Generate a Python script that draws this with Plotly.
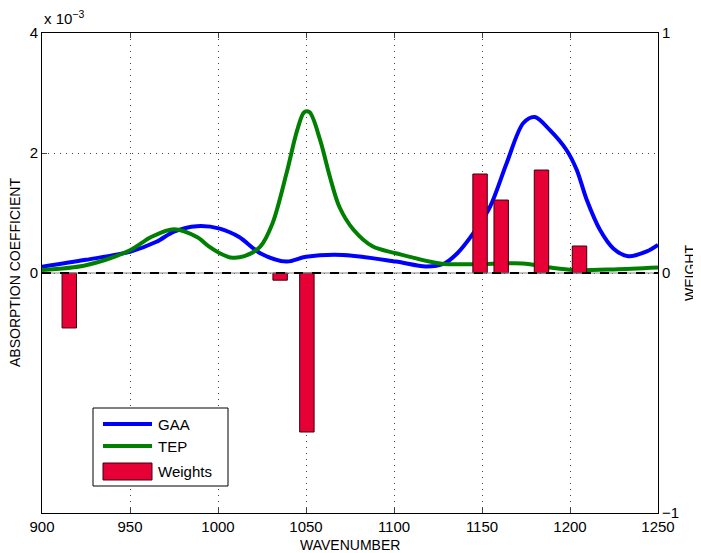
import plotly.graph_objects as go

# Data (absorption coefficient in units of 1e-3)
gaa_x = [900, 925, 950, 965, 975, 988, 1001, 1012, 1024, 1039, 1050, 1071, 1101, 1118, 1128,
         1136, 1145, 1154.5, 1164, 1173.5, 1180, 1188.6, 1198, 1203.8, 1209.5, 1217, 1224.6,
         1233, 1243.6, 1250]
gaa_y = [0.105, 0.22, 0.355, 0.52, 0.69, 0.78, 0.74, 0.6, 0.33, 0.19, 0.27, 0.3, 0.19, 0.11, 0.15,
         0.33, 0.66, 1.1, 1.83, 2.5, 2.6, 2.38, 2.05, 1.72, 1.22, 0.72, 0.41,
         0.28, 0.36, 0.47]

tep_x = [900, 925, 950, 962, 975, 988, 995, 1001, 1007, 1015, 1024, 1031, 1039, 1045, 1049, 1052,
         1058, 1063.6, 1069, 1077, 1088, 1101, 1126, 1145, 1173, 1189, 1202, 1225, 1250]
tep_y = [0.05, 0.13, 0.38, 0.6, 0.73, 0.6, 0.44, 0.33, 0.26, 0.28, 0.44, 0.83, 1.67, 2.38, 2.68, 2.68,
         2.22, 1.6, 1.1, 0.72, 0.44, 0.33, 0.16, 0.145, 0.16, 0.09, 0.05, 0.06, 0.09]

weight_x = [915.5, 1035.3, 1050.5, 1148.9, 1160.9, 1183.8, 1205.4]
weight_y = [-0.229, -0.03, -0.6625, 0.4125, 0.304, 0.429, 0.1125]

x_ticks = [900, 950, 1000, 1050, 1100, 1150, 1200, 1250]
y_ticks = [0, 2, 4]
y2_ticks = [-1, 0, 1]

legend_names = ["GAA", "TEP", "Weights"]
BLUE, GREEN, RED = "#0000FF", "#008000", "#E60036"

FONT = "Liberation Sans, Arial, Helvetica, sans-serif"
GRID = dict(showgrid=True, gridcolor="#444444", griddash="1px,5px", gridwidth=1)

fig = go.Figure()

fig.add_trace(go.Scatter(x=gaa_x, y=gaa_y, mode="lines", name=legend_names[0],
                         line=dict(color=BLUE, width=4, shape="spline", smoothing=0.9)))
fig.add_trace(go.Scatter(x=tep_x, y=tep_y, mode="lines", name=legend_names[1],
                         line=dict(color=GREEN, width=4, shape="spline", smoothing=0.9)))
fig.add_trace(go.Bar(x=weight_x, y=weight_y, name=legend_names[2], yaxis="y2", width=8.2,
                     marker=dict(color=RED, line=dict(color="#3a0010", width=1))))

# zero reference line
fig.add_shape(type="line", xref="paper", yref="y", x0=0, x1=1, y0=0, y1=0,
              line=dict(color="#888888", width=1), layer="above")
fig.add_shape(type="line", xref="paper", yref="y", x0=0, x1=1, y0=0, y1=0,
              line=dict(color="black", width=2, dash="dash"), layer="above")

# page has an 8px body margin, so the figure is offset by 8px
fig.update_layout(
    width=693, height=545,
    margin=dict(l=34, r=43, t=25, b=40, autoexpand=False),
    paper_bgcolor="white", plot_bgcolor="white",
    font=dict(family=FONT, size=14, color="black"),
    showlegend=False,
    xaxis=dict(range=[900, 1250], tickvals=x_ticks, ticks="inside", ticklen=5,
               showline=True, linecolor="black", linewidth=1, mirror="ticks",
               zeroline=False, tickfont=dict(size=15), automargin=False, **GRID),
    yaxis=dict(range=[-4, 4], tickvals=y_ticks, ticks="inside", ticklen=5,
               showline=True, linecolor="black", linewidth=1,
               zeroline=False, tickfont=dict(size=15), automargin=False, **GRID),
    yaxis2=dict(range=[-1, 1], tickvals=y2_ticks, ticktext=["\u22121", "0", "1"],
                ticks="inside", ticklen=5, overlaying="y", side="right",
                showline=True, linecolor="black", linewidth=1,
                showgrid=False, zeroline=False, tickfont=dict(size=15), automargin=False),
)

# axis titles (screen-pixel positions converted to paper coordinates)
def px2paper(px, py):
    return (px - 42) / 616, (513 - py) / 480

for text, (px, py), ang in [("WAVENUMBER", (350, 545), 0),
                            ("ABSORPTION COEFFICIENT", (15, 273), -90),
                            ("WEIGHT", (690, 273), -90)]:
    xp, yp = px2paper(px, py)
    fig.add_annotation(text=text, xref="paper", yref="paper", x=xp, y=yp,
                       xanchor="center", yanchor="middle", showarrow=False,
                       textangle=ang, font=dict(size=14))

fig.add_annotation(text="x 10<sup>\u22123</sup>", xref="paper", yref="paper",
                   x=0, y=1, xanchor="left", yanchor="bottom", showarrow=False,
                   font=dict(size=15), xshift=0, yshift=4)

# manual legend
x0, y0 = px2paper(93, 486)
x1, y1 = px2paper(228, 408)
fig.add_shape(type="rect", xref="paper", yref="paper", x0=x0, x1=x1, y0=y0, y1=y1,
              line=dict(color="black", width=1), fillcolor="white", layer="above")
for name, color, py in [(legend_names[0], BLUE, 424), (legend_names[1], GREEN, 446)]:
    lx0, ly = px2paper(103, py)
    lx1, _ = px2paper(152, py)
    fig.add_shape(type="line", xref="paper", yref="paper", x0=lx0, x1=lx1, y0=ly, y1=ly,
                  line=dict(color=color, width=4), layer="above")
    tx, _ = px2paper(156, py)
    fig.add_annotation(text=name, xref="paper", yref="paper", x=tx, y=ly, xanchor="left",
                       yanchor="middle", showarrow=False, font=dict(size=15))
rx0, ry0 = px2paper(103, 480)
rx1, ry1 = px2paper(152, 463)
fig.add_shape(type="rect", xref="paper", yref="paper", x0=rx0, x1=rx1, y0=ry0, y1=ry1,
              line=dict(color="#3a0010", width=1), fillcolor=RED, layer="above")
tx, ty = px2paper(156, 471)
fig.add_annotation(text=legend_names[2], xref="paper", yref="paper", x=tx, y=ty, xanchor="left",
                   yanchor="middle", showarrow=False, font=dict(size=15))

fig.write_html("out.html")
